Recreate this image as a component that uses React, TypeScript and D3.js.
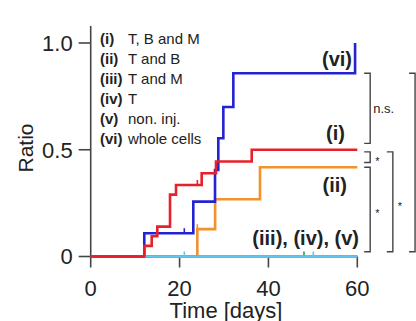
import React from "react";
import * as d3 from "d3";

type Pt = [number, number];

// Kaplan-Meier style step curves: [day, ratio]
const seriesI: Pt[] = [[0, 0], [12.06, 0.05], [13.73, 0.095], [14.99, 0.14], [17.85, 0.29], [19.2, 0.335], [24.98, 0.39], [28.2, 0.445], [36.24, 0.5], [60, 0.5]];
const seriesII: Pt[] = [[0, 0], [24.0, 0.128], [28.0, 0.268], [38.1, 0.418], [60, 0.418]];
const seriesVI: Pt[] = [[0, 0], [12.06, 0.109], [23.09, 0.257], [27.98, 0.405], [28.72, 0.554], [29.85, 0.7], [32.1, 0.858], [59.5, 1.0]];
const seriesZero: Pt[] = [[0, 0], [60, 0]];

// censor marks
const censorI: Pt[] = [[24.0, 0.335]];
const censorII: Pt[] = [[24.0, 0.128]];
const censorVI: Pt[] = [[21.07, 0.109]];
const censorIII: Pt[] = [[21.07, 0], [50.1, 0]];
const censorIV: Pt[] = [[48.0, 0]];

const legendKeys = ["(i)", "(ii)", "(iii)", "(iv)", "(v)", "(vi)"];
const legendNames = ["T, B and M", "T and B", "T and M", "T", "non. inj.", "whole cells"];

const xTicks = [0, 20, 40, 60];
const yTicks = [0, 0.5, 1.0];
const yTickLabels = ["0", "0.5", "1.0"];

// significance brackets: column (day), top ratio, bottom ratio, label
const brackets = [
  { col: 62.9, top: 0.858, bottom: 0.53, label: "n.s." },
  { col: 62.9, top: 0.49, bottom: 0.44, label: "*" },
  { col: 62.9, top: 0.418, bottom: 0.022, label: "*" },
  { col: 68.0, top: 0.49, bottom: 0.022, label: "*" },
  { col: 73.0, top: 0.858, bottom: 0.022, label: "*" },
];

const RED = "#e8202a";
const BLUE = "#2323d2";
const ORANGE = "#f0922e";
const LIGHT = "#62c6ee";
const GREEN = "#2f9a5c";
const AXIS = "#444";
const FONT = "'Liberation Sans', Arial, Helvetica, sans-serif";

export default function App() {
  const width = 416;
  const height = 321;
  const x = d3.scaleLinear().domain([0, 60]).range([90.7, 357.3]);
  const y = d3.scaleLinear().domain([0, 1]).range([256.5, 43]);
  const line = d3
    .line<Pt>()
    .x((d) => x(d[0]))
    .y((d) => y(d[1]))
    .curve(d3.curveStepAfter);

  const curve = (data: Pt[], color: string) => (
    <path d={line(data) || ""} fill="none" stroke={color} strokeWidth={2.6} />
  );
  const marks = (data: Pt[], color: string) =>
    data.map((d, i) => (
      <line key={i} x1={x(d[0])} x2={x(d[0])} y1={y(d[1]) - 5} y2={y(d[1])} stroke={color} strokeWidth={1.6} />
    ));

  return (
    <svg width={width} height={height} style={{ position: "absolute", left: 0, top: 0 }} fontFamily={FONT}>
      {/* axes */}
      <line x1={x(0)} x2={x(0)} y1={y(1.08)} y2={y(0)} stroke={AXIS} strokeWidth={1.6} />
      <line x1={x(0)} x2={x(60)} y1={y(0)} y2={y(0)} stroke={AXIS} strokeWidth={1.6} />
      {yTicks.map((t, i) => (
        <g key={t}>
          <line x1={x(0) - 12} x2={x(0)} y1={y(t)} y2={y(t)} stroke={AXIS} strokeWidth={1.6} />
          <text x={x(0) - 18} y={y(t)} dy="0.36em" textAnchor="end" fontSize={22} fill="#222">
            {yTickLabels[i]}
          </text>
        </g>
      ))}
      {xTicks.map((t) => (
        <g key={t}>
          <line x1={x(t)} x2={x(t)} y1={y(0)} y2={y(0) + 11} stroke={AXIS} strokeWidth={1.6} />
          <text x={x(t)} y={296} textAnchor="middle" fontSize={22} fill="#222">
            {t}
          </text>
        </g>
      ))}
      <text x={226} y={318} textAnchor="middle" fontSize={22} fill="#222">
        Time [days]
      </text>
      <text transform={`translate(33,148) rotate(-90)`} textAnchor="middle" fontSize={21} fill="#222">
        Ratio
      </text>

      {/* curves */}
      {curve(seriesII, ORANGE)}
      {marks(censorII, ORANGE)}
      {curve(seriesVI, BLUE)}
      {marks(censorVI, BLUE)}
      {curve(seriesZero, GREEN)}
      {marks(censorIV, GREEN)}
      {curve(seriesZero.map((d) => [Math.max(d[0], 12.06), d[1]] as Pt), LIGHT)}
      {marks(censorIII, LIGHT)}
      {curve(seriesI, RED)}
      {marks(censorI, RED)}

      {/* curve labels */}
      <g fontSize={20} fontWeight="bold" fill="#222">
        <text x={352} y={66} textAnchor="end">(vi)</text>
        <text x={345} y={140} textAnchor="end">(i)</text>
        <text x={347} y={192} textAnchor="end">(ii)</text>
        <text x={359} y={245} textAnchor="end">(iii), (iv), (v)</text>
      </g>

      {/* legend */}
      <g fontSize={15} fill="#222">
        {legendKeys.map((k, i) => (
          <g key={k}>
            <text x={100} y={43.5 + i * 20} fontWeight="bold">{k}</text>
            <text x={128} y={43.5 + i * 20}>{legendNames[i]}</text>
          </g>
        ))}
      </g>

      {/* significance brackets */}
      {brackets.map((b, i) => {
        const bx = x(b.col);
        const y0 = y(b.top);
        const y1 = y(b.bottom);
        return (
          <g key={i}>
            <path d={`M${bx - 6},${y0}H${bx}V${y1}H${bx - 6}`} fill="none" stroke={AXIS} strokeWidth={1.4} />
            <text
              x={bx + (b.label === "*" ? 5 : 3)}
              y={(y0 + y1) / 2}
              dy={b.label === "*" ? "0.7em" : "0.36em"}
              fontSize={b.label === "*" ? 11 : 13}
              fill="#222"
            >
              {b.label}
            </text>
          </g>
        );
      })}
    </svg>
  );
}
